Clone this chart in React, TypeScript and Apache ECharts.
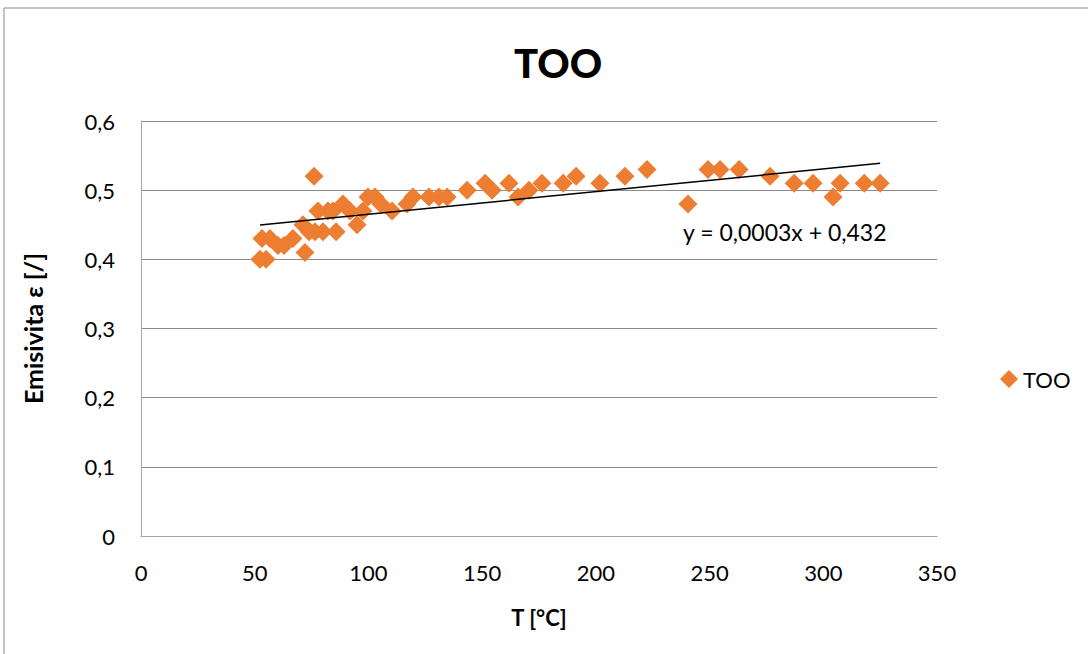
import React, { useEffect, useRef } from "react";
import * as echarts from "echarts";

const temperatures = [
  52.3, 53.2, 55.0, 56.7, 60.2, 62.9, 66.8, 72.1, 71.2, 73.9, 76.1, 76.5, 77.8, 80.0, 82.2, 85.8,
  84.4, 88.8, 91.9, 95.0, 97.6, 99.8, 102.9, 105.5, 110.4, 117.0, 119.6, 126.6, 131.0, 134.6,
  143.4, 151.3, 154.4, 161.8, 165.8, 170.6, 176.3, 185.6, 191.3, 201.8, 212.8, 222.5, 240.5,
  249.3, 254.6, 263.0, 276.6, 287.2, 295.5, 304.3, 307.4, 318.0, 325.0,
];
const emissivity = [
  0.40, 0.43, 0.40, 0.43, 0.42, 0.42, 0.43, 0.41, 0.45, 0.44, 0.52, 0.44, 0.47, 0.44, 0.47, 0.44,
  0.47, 0.48, 0.47, 0.45, 0.47, 0.49, 0.49, 0.48, 0.47, 0.48, 0.49, 0.49, 0.49, 0.49,
  0.50, 0.51, 0.50, 0.51, 0.49, 0.50, 0.51, 0.51, 0.52, 0.51, 0.52, 0.53, 0.48,
  0.53, 0.53, 0.53, 0.52, 0.51, 0.51, 0.49, 0.51, 0.51, 0.51,
];
const xTicks = [0, 50, 100, 150, 200, 250, 300, 350];
const yTicks = [0, 0.1, 0.2, 0.3, 0.4, 0.5, 0.6];
const trendSlope = 0.000327;
const trendIntercept = 0.4325;
const trendLabel = "y = 0,0003x + 0,432";
const seriesName = "TOO";

const FONT = "Lato, 'Open Sans', sans-serif";
const ORANGE = "#ED7D31";

export default function App() {
  const ref = useRef<HTMLDivElement>(null);
  useEffect(() => {
    if (!ref.current) return;
    const chart = echarts.init(ref.current, null, { renderer: "svg" });
    const points = temperatures.map((t, i) => [t, emissivity[i]]);
    const xMin = Math.min(...temperatures);
    const xMax = Math.max(...temperatures);
    const trend = [
      [xMin, trendSlope * xMin + trendIntercept],
      [xMax, trendSlope * xMax + trendIntercept],
    ];
    chart.setOption({
      animation: false,
      backgroundColor: "#ffffff",
      title: {
        text: seriesName,
        left: 553,
        top: 38,
        textAlign: "center",
        textStyle: { fontFamily: FONT, fontSize: 40, fontWeight: 900, color: "#000" },
      },
      grid: { left: 141, right: 151, top: 121, bottom: 118 },
      xAxis: {
        type: "value",
        min: xTicks[0],
        max: xTicks[xTicks.length - 1],
        interval: 50,
        name: "T [°C]",
        nameLocation: "middle",
        nameGap: 70,
        nameTextStyle: { fontFamily: FONT, fontSize: 22, fontWeight: "bold", color: "#000" },
        axisLine: { show: true, lineStyle: { color: "#a6a6a6", width: 1 } },
        axisTick: { show: false },
        splitLine: { show: false },
        axisLabel: { fontFamily: FONT, fontSize: 22, color: "#000", margin: 25 },
      },
      yAxis: {
        type: "value",
        min: yTicks[0],
        max: yTicks[yTicks.length - 1],
        interval: 0.1,
        name: "Emisivita ε [/]",
        nameLocation: "middle",
        nameGap: 96,
        nameRotate: 90,
        nameTextStyle: { fontFamily: FONT, fontSize: 25, fontWeight: "bold", color: "#000" },
        axisLine: { show: true, lineStyle: { color: "#a6a6a6", width: 1 } },
        axisTick: { show: false },
        splitLine: { show: true, lineStyle: { color: "#8c8c8c", width: 1 } },
        axisLabel: {
          fontFamily: FONT,
          fontSize: 22,
          color: "#000",
          margin: 26,
          formatter: (v: number) => (Math.round(v * 10) / 10).toString().replace(".", ","),
        },
      },
      legend: {
        show: true,
        data: [{ name: seriesName, icon: "diamond", itemStyle: { opacity: 1 } }],
        left: 995,
        top: 363,
        itemWidth: 18,
        itemHeight: 18,
        itemGap: 5,
        textStyle: { fontFamily: FONT, fontSize: 22, color: "#000" },
      },
      series: [
        {
          name: seriesName,
          type: "scatter",
          data: points,
          symbol: "diamond",
          symbolSize: 19,
          itemStyle: { color: ORANGE, opacity: 1 },
          z: 3,
        },
        {
          name: "trend",
          type: "line",
          data: trend,
          symbol: "none",
          lineStyle: { color: "#000", width: 1.5 },
          z: 4,
        },
      ],
      graphic: [
        {
          type: "rect",
          shape: { x: 4, y: 8, width: 1200, height: 800 },
          style: { fill: "none", stroke: "#8c8c8c", lineWidth: 1 },
          silent: true,
        },
        {
          type: "text",
          x: 683,
          y: 220,
          style: { text: trendLabel, fontFamily: FONT, fontSize: 23, fill: "#000" },
        },
      ],
    });
    return () => chart.dispose();
  }, []);
  return (
    <div
      ref={ref}
      style={{ position: "absolute", left: 0, top: 0, width: 1088, height: 654 }}
    />
  );
}
